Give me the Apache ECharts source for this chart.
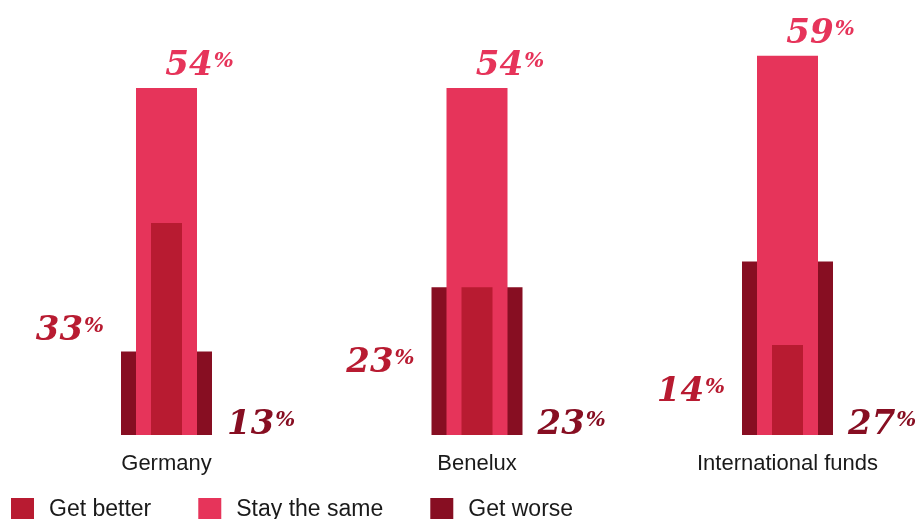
<!DOCTYPE html>
<html>
<head>
<meta charset="utf-8">
<script src="https://cdn.jsdelivr.net/npm/echarts@6/dist/echarts.min.js"></script>
<style>
html,body{margin:0;padding:0;background:#fff;}
#chart{width:916px;height:519px;}
</style>
</head>
<body>
<div id="chart"></div>
<script>
const categories = ['Germany', 'Benelux', 'International funds'];
const getBetter = [33, 23, 14];
const stayTheSame = [54, 54, 59];
const getWorse = [13, 23, 27];
const seriesNames = ['Get better', 'Stay the same', 'Get worse'];

const C_BETTER = '#B81B31';
const C_SAME = '#E6345A';
const C_WORSE = '#870E22';

function richFor(color) {
  return {
    n: { fontFamily: 'DejaVu Serif', fontStyle: 'italic', fontWeight: 'bold', fontSize: 34, lineHeight: 34, color: color },
    p: { fontFamily: 'DejaVu Serif', fontStyle: 'italic', fontWeight: 'bold', fontSize: 21, lineHeight: 21, color: color, verticalAlign: 'top', padding: [2, 0, 0, 1] }
  };
}
const fmt = p => '{n|' + p.value + '}{p|%}';

const chart = echarts.init(document.getElementById('chart'));
const xBase = { type: 'category', data: categories, gridIndex: 0, boundaryGap: false, axisLine: { show: false }, axisTick: { show: false }, splitLine: { show: false } };
chart.setOption({
  animation: false,
  grid: { left: 166.5, right: 128.5, top: 49.4, bottom: 84, containLabel: false },
  xAxis: [
    Object.assign({}, xBase, { axisLabel: { show: true, margin: 18, fontSize: 22, color: '#1a1a1a', fontFamily: 'Liberation Sans, Arial, Helvetica, sans-serif' } }),
    Object.assign({}, xBase, { show: false }),
    Object.assign({}, xBase, { show: false })
  ],
  yAxis: { type: 'value', min: 0, max: 60, show: false, splitLine: { show: false } },
  legend: {
    data: seriesNames,
    left: 11, top: 498, padding: 0,
    icon: 'rect', itemWidth: 23, itemHeight: 23, itemGap: 47,
    textStyle: { fontSize: 23, color: '#1a1a1a', fontFamily: 'Liberation Sans, Arial, Helvetica, sans-serif', padding: [0, 0, 0, 10] }
  },
  series: [
    {
      name: 'Get better', type: 'bar', data: getBetter, xAxisIndex: 0, barWidth: 31, z: 4,
      itemStyle: { color: C_BETTER },
      label: { show: true, position: 'left', distance: 47, offset: [0, 2], formatter: fmt, rich: richFor(C_BETTER) }
    },
    {
      name: 'Stay the same', type: 'bar', data: stayTheSame, xAxisIndex: 1, barWidth: 61, z: 3,
      itemStyle: { color: C_SAME },
      label: { show: true, position: 'top', distance: 5, offset: [33, 0], formatter: fmt, rich: richFor(C_SAME) }
    },
    {
      name: 'Get worse', type: 'bar', data: getWorse, xAxisIndex: 2, barWidth: 91, z: 2,
      itemStyle: { color: C_WORSE },
      label: { show: true, position: ['100%', '100%'], align: 'left', verticalAlign: 'bottom', offset: [15, 7], formatter: fmt, rich: richFor(C_WORSE) }
    }
  ]
});
</script>
</body>
</html>
